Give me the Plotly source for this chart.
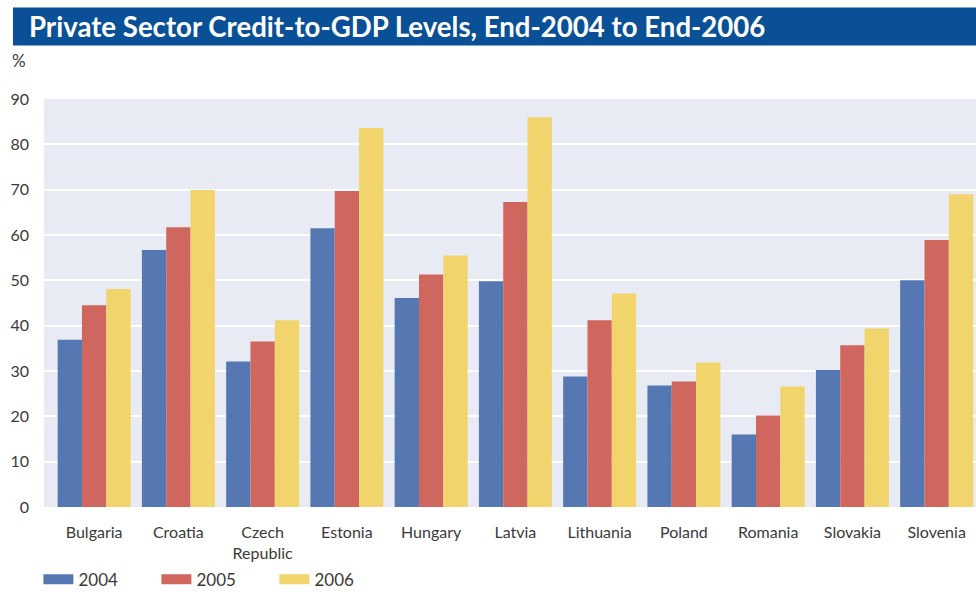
import plotly.graph_objects as go

countries = ["Bulgaria", "Croatia", "Czech<br>Republic", "Estonia", "Hungary", "Latvia",
             "Lithuania", "Poland", "Romania", "Slovakia", "Slovenia"]
years = ["2004", "2005", "2006"]
v2004 = [36.9, 56.7, 32.1, 61.5, 46.1, 49.8, 28.8, 26.8, 16.0, 30.2, 50.0]
v2005 = [44.5, 61.7, 36.5, 69.7, 51.3, 67.3, 41.2, 27.7, 20.2, 35.7, 58.9]
v2006 = [48.1, 69.9, 41.2, 83.6, 55.5, 86.0, 47.1, 31.9, 26.6, 39.4, 69.0]
yticks = [0, 10, 20, 30, 40, 50, 60, 70, 80, 90]
title_text = "Private Sector Credit-to-GDP Levels, End-2004 to End-2006"

colors = ["#5578B2", "#CF675F", "#F2D46C"]
series = [v2004, v2005, v2006]
FONT = "Lato"
TXT = "#3a3a3a"

fig = go.Figure()
for name, vals, col in zip(years, series, colors):
    fig.add_trace(go.Bar(x=countries, y=vals, name=name, marker=dict(color=col, line=dict(width=0)),
                         showlegend=False, legendgroup=name))
for name, col in zip(years, colors):
    fig.add_trace(go.Scatter(x=[None], y=[None], mode="lines", name=name, legendgroup=name,
                             line=dict(color=col, width=12), showlegend=True))

fig.update_layout(
    width=976, height=592,
    margin=dict(l=44, r=0, t=99, b=85, autoexpand=False),
    paper_bgcolor="white",
    plot_bgcolor="#E8EBF4",
    barmode="group",
    bargap=0.134,
    bargroupgap=0,
    font=dict(family=FONT, size=16, color=TXT),
    showlegend=True,
    legend=dict(orientation="h", x=-0.006, xanchor="left", y=-0.178, yanchor="middle",
                font=dict(family=FONT, size=17, color=TXT),
                entrywidth=73, entrywidthmode="pixels", itemwidth=30,
                bgcolor="rgba(0,0,0,0)"),
    xaxis=dict(type="category", range=[-0.595, 10.467], showgrid=False, zeroline=False,
               showline=False, ticks="", ticklabelstandoff=14, automargin=False,
               tickfont=dict(family=FONT, size=16, color=TXT)),
    yaxis=dict(range=[0, 90], tickvals=yticks, showgrid=True, gridcolor="white", gridwidth=2,
               zeroline=False, showline=False, ticks="", ticklabelstandoff=14, automargin=False,
               tickfont=dict(family=FONT, size=16, color=TXT)),
    shapes=[dict(type="rect", xref="paper", yref="paper", x0=-0.0333, x1=1.0, y0=1.1311, y1=1.2243,
                 fillcolor="#0A5096", line=dict(width=0), layer="above")],
    annotations=[
        dict(text="<b>" + title_text + "</b>", xref="paper", yref="paper", x=-0.018, y=1.1777,
             xanchor="left", yanchor="middle", showarrow=False,
             font=dict(family=FONT, size=27.6, color="white")),
        dict(text="%", xref="paper", yref="paper", x=-0.036, y=1.0955, xanchor="left", yanchor="middle",
             showarrow=False, font=dict(family=FONT, size=17, color=TXT)),
    ],
)

fig.write_html("out.html", config={"displayModeBar": False},
               post_script="document.body.style.margin='0px';document.body.style.overflow='hidden';")
